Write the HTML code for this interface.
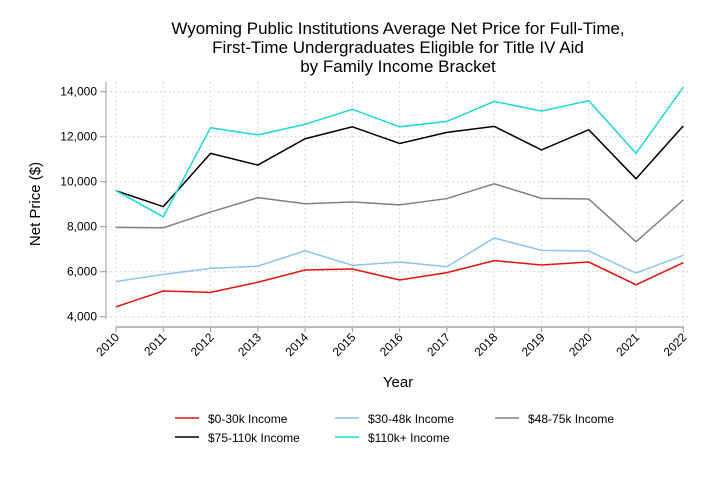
<!DOCTYPE html>
<html><head><meta charset="utf-8"><style>
body{margin:0;background:#fff;width:711px;height:474px;overflow:hidden;font-family:"Liberation Sans",sans-serif}
</style></head><body>
<svg width="711" height="474" font-family="Liberation Sans, sans-serif">
<g font-size="17" text-anchor="middle" fill="#000">
<text x="398" y="34">Wyoming Public Institutions Average Net Price for Full-Time,</text>
<text x="398" y="53">First-Time Undergraduates Eligible for Title IV Aid</text>
<text x="398" y="72">by Family Income Bracket</text>
</g>
<g id="grid"></g>
<g id="axes"></g>
<g id="series"></g>
<text x="398" y="387" font-size="15" text-anchor="middle">Year</text>
<text x="40" y="204" font-size="15" text-anchor="middle" transform="rotate(-90 40 204)">Net Price ($)</text>
<g id="legend" font-size="12"></g>
</svg>
<script>
const years=[2010,2011,2012,2013,2014,2015,2016,2017,2018,2019,2020,2021,2022];
const yTicks=[4000,6000,8000,10000,12000,14000];
const yTickLabels=["4,000","6,000","8,000","10,000","12,000","14,000"];
const seriesNames=["$0-30k Income","$30-48k Income","$48-75k Income","$75-110k Income","$110k+ Income"];
const s0=[4440,5140,5080,5530,6075,6120,5630,5960,6490,6300,6430,5420,6400];
const s1=[5560,5880,6150,6250,6930,6280,6430,6220,7500,6950,6920,5940,6730];
const s2=[7970,7950,8650,9290,9020,9100,8970,9250,9910,9260,9230,7330,9190];
const s3=[9600,8890,11260,10740,11910,12440,11700,12190,12460,11410,12310,10130,12480];
const s4=[9600,8440,12400,12080,12550,13220,12440,12680,13570,13140,13600,11260,14200];
const colors=["#e3120b","#8cc4ef","#808080","#000000","#1fd6d6"];
const NS="http://www.w3.org/2000/svg";
const xS=y=>116+(y-2010)*(683.3-116)/12;
const yS=v=>316.7-(v-4000)*22.5/1000;
function mk(t,a,p){const e=document.createElementNS(NS,t);for(const k in a)e.setAttribute(k,a[k]);p.appendChild(e);return e;}
const grid=document.getElementById('grid'),axes=document.getElementById('axes'),ser=document.getElementById('series'),leg=document.getElementById('legend');
years.forEach(y=>{const l=mk('line',{x1:xS(y),x2:xS(y),y1:82,y2:327,stroke:'#ccc','stroke-dasharray':'1.5,3'},grid);

const tk=mk('line',{x1:xS(y),x2:xS(y),y1:327,y2:332,stroke:'#999'},axes);

const t=mk('text',{x:xS(y)+4,y:338,'font-size':12,'text-anchor':'end',transform:`rotate(-45 ${xS(y)+4} 338)`},axes);t.textContent=y;
});
yTicks.forEach((v,i)=>{const l=mk('line',{x1:106,x2:690,y1:yS(v),y2:yS(v),stroke:'#ccc','stroke-dasharray':'1.5,3'},grid);

const tk=mk('line',{x1:100,x2:106,y1:yS(v),y2:yS(v),stroke:'#999'},axes);

const t=mk('text',{x:97,y:yS(v)+4,'font-size':12,'text-anchor':'end'},axes);t.textContent=yTickLabels[i];
});
const ya=mk('line',{x1:106,x2:106,y1:82,y2:319,stroke:'#999'},axes);

const xa=mk('line',{x1:116,x2:684,y1:327,y2:327,stroke:'#bbb','stroke-width':2},axes);

[s0,s1,s2,s3,s4].forEach((d,i)=>{const p=mk('polyline',{points:d.map((v,j)=>xS(years[j])+','+yS(v)).join(' '),fill:'none',stroke:colors[i],'stroke-width':1.5},ser);
});
const lpos=[[175,423],[335,423],[495,423],[175,442],[335,442]];
seriesNames.forEach((n,i)=>{const g=mk('g',{},leg);

mk('line',{x1:lpos[i][0],x2:lpos[i][0]+24,y1:lpos[i][1]-5,y2:lpos[i][1]-5,stroke:colors[i],'stroke-width':1.5},g);
const t=mk('text',{x:lpos[i][0]+33,y:lpos[i][1]},g);t.textContent=n;});
</script>
</body></html>
